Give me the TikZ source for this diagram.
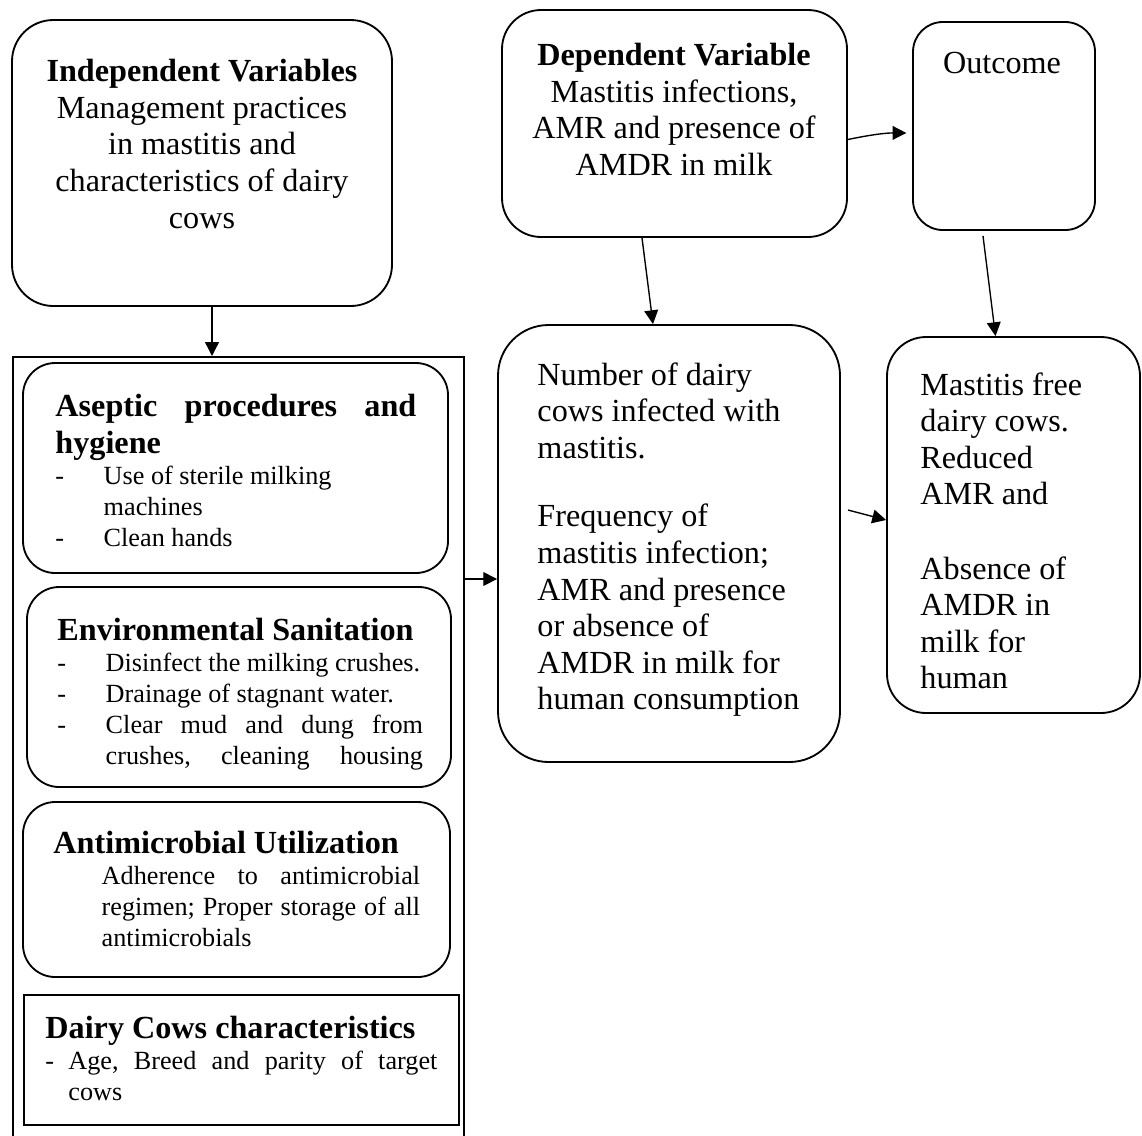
\documentclass[tikz,border=0pt]{standalone}
\usepackage{fontspec}
\setmainfont{Liberation Serif}
\usetikzlibrary{arrows.meta}
\setlength{\parindent}{0pt}

\newcommand\pxu{0.435pt}
\newcommand\bigfont{\fontsize{14}{15.9}\selectfont}
\newcommand\smallfont{\fontsize{11.4}{13.5}\selectfont}
\newcommand\itemdash{\makebox[21pt][l]{-}}

\tikzset{
  rbox/.style={draw, line width=0.8pt, rounded corners=#1, inner sep=0pt},
  sbox/.style={draw, line width=0.5pt, inner sep=0pt},
  arr/.style={-{Triangle[length=6pt,width=6pt]}, line width=0.6pt},
  ctxt/.style={inner sep=0pt, anchor=north, align=center, font=\bigfont},
  ltxt/.style={inner sep=0pt, anchor=north west, align=left, font=\bigfont}
}

\begin{document}
\begin{tikzpicture}[x=0.435pt, y=-0.435pt]
        \useasboundingbox (0,0) rectangle (1142,1135);

        % independent side
        \node[rbox=18pt, minimum width=380*\pxu, minimum height=286*\pxu] (iv) at (202,163) {};
        \node[ctxt] (ivtxt) at (202,59) {{\bfseries Independent Variables}\\ Management practices\\ in mastitis and\\ characteristics of dairy\\ cows};

        \node[draw, line width=1pt, anchor=north west, minimum width=451*\pxu, minimum height=800*\pxu, inner sep=0pt] (indep) at (12,356) {};

        \node[rbox=14pt, minimum width=425*\pxu, minimum height=210*\pxu] (asep) at (235.5,468) {};
        \node[ltxt] (aseptxt) at (55,394) {\begin{minipage}[t]{157pt}
            {\bfseries Aseptic\hfill procedures\hfill and\\ hygiene\par}
            \smallfont
            \itemdash Use of sterile milking\\
            \hspace*{21pt}machines\\
            \itemdash Clean hands
            \end{minipage}};

        \node[rbox=14pt, minimum width=424*\pxu, minimum height=200*\pxu] (env) at (239,687) {};
        \node[ltxt] (envtxt) at (57,618) {\begin{minipage}[t]{159pt}
            {\bfseries Environmental Sanitation\par}
            \smallfont
            \itemdash Disinfect the milking crushes.\\
            \itemdash Drainage of stagnant water.\\
            \itemdash Clear\hfill mud\hfill and\hfill dung\hfill from\\
            \hspace*{21pt}crushes,\hfill cleaning\hfill housing
            \end{minipage}};

        \node[rbox=14pt, minimum width=427*\pxu, minimum height=175*\pxu] (amu) at (236.5,889.5) {};
        \node[ltxt] (amutxt) at (53,831) {\begin{minipage}[t]{159.5pt}
            {\bfseries Antimicrobial Utilization\par}
            \smallfont
            \hspace*{21pt}Adherence\hfill to\hfill antimicrobial\\
            \hspace*{21pt}regimen;\hfill Proper\hfill storage\hfill of\hfill all\\
            \hspace*{21pt}antimicrobials
            \end{minipage}};

        \node[sbox, minimum width=435*\pxu, minimum height=130*\pxu] (dcc) at (241.5,1060) {};
        \node[ltxt] (dcctxt) at (45,1016) {\begin{minipage}[t]{170.5pt}
            {\bfseries Dairy Cows characteristics\par}
            \smallfont
            \makebox[10pt][l]{-}Age,\hfill Breed\hfill and\hfill parity\hfill of\hfill target\\
            \hspace*{10pt}cows
            \end{minipage}};

        % dependent side
        \node[rbox=17pt, minimum width=345*\pxu, minimum height=227*\pxu] (dv) at (674.5,123.5) {};
        \node[ctxt] (dvtxt) at (674,43) {{\bfseries Dependent Variable}\\ Mastitis infections,\\ AMR and presence of\\ AMDR in milk};

        \node[rbox=13pt, minimum width=182*\pxu, minimum height=208*\pxu] (outc) at (1004,126) {};
        \node[ctxt] (outctxt) at (1002,52) {Outcome};

        \node[rbox=22pt, minimum width=342*\pxu, minimum height=437*\pxu] (num) at (669,543.5) {};
        \node[ltxt] (numtxt) at (537,362) {Number of dairy\\ cows infected with\\ mastitis.\\[14pt] Frequency of\\ mastitis infection;\\ AMR and presence\\ or absence of\\ AMDR in milk for\\ human consumption};

        \node[rbox=17pt, minimum width=253*\pxu, minimum height=376*\pxu] (mfree) at (1013.5,525) {};
        \node[ltxt] (mfreetxt) at (920,372) {Mastitis free\\ dairy cows.\\ Reduced\\ AMR and\\[16.5pt] Absence of\\ AMDR in\\ milk for\\ human};

        % connectors
        \coordinate (ivout) at ([xshift=10*\pxu]iv.south);
        \draw[arr] (ivout) -- (ivout |- indep.north);
        \coordinate (numin) at ([yshift=-35.5*\pxu]num.west);
        \draw[arr] (numin -| indep.east) -- (numin);
        \draw[arr] ([xshift=-32.5*\pxu]dv.south) -- ([xshift=-16*\pxu]num.north);
        \draw[arr, shorten >=2.5pt] ([yshift=-16*\pxu]dv.east) to[bend left=6] ([yshift=-7*\pxu]outc.west);
        \draw[arr] ([xshift=-21*\pxu,yshift=-5*\pxu]outc.south) -- ([xshift=-18*\pxu]mfree.north);
        \draw[arr] ([xshift=7*\pxu,yshift=33.5*\pxu]num.east) -- ([yshift=5*\pxu]mfree.west);
\end{tikzpicture}
\end{document}
